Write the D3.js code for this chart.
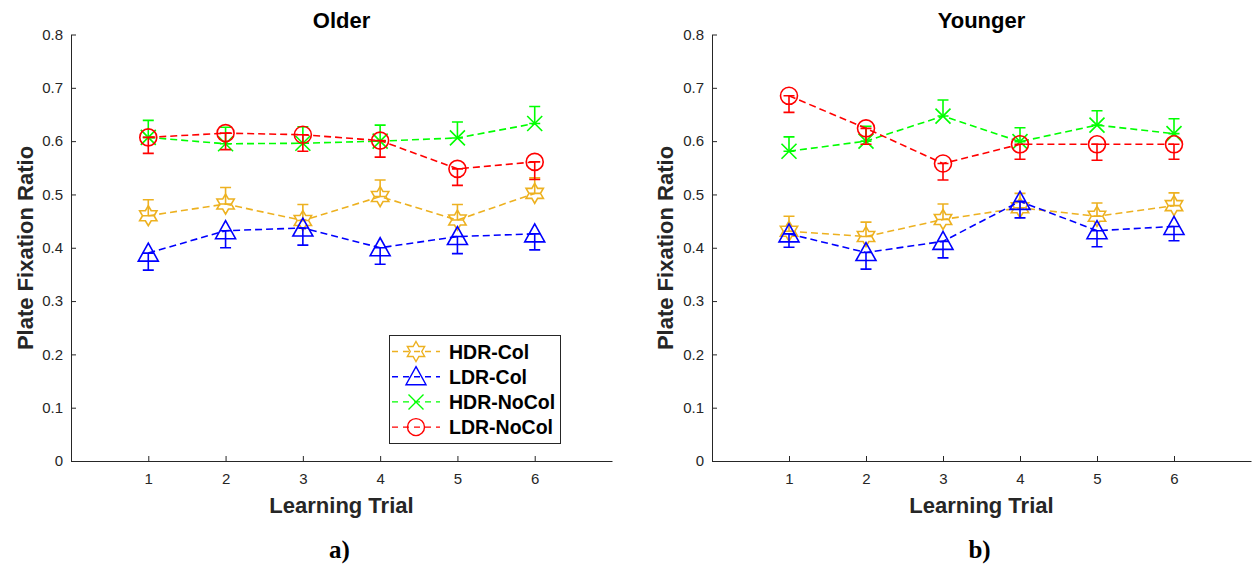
<!DOCTYPE html>
<html>
<head>
<meta charset="utf-8">
<script src="https://cdn.jsdelivr.net/npm/d3@7"></script>
<style>
  html, body { margin: 0; padding: 0; background: #fff; }
  svg { display: block; }
</style>
</head>
<body>
<svg id="chart" width="1254" height="567"></svg>
<script>
// data (mean and one-sided error-bar length)

const trials = [1, 2, 3, 4, 5, 6]
const xTicks = [1, 2, 3, 4, 5, 6]
const yTicks = [0, 0.1, 0.2, 0.3, 0.4, 0.5, 0.6, 0.7, 0.8]
const seriesNames = ['HDR-Col', 'LDR-Col', 'HDR-NoCol', 'LDR-NoCol']

const olderHdrCol      = [0.460, 0.482, 0.451, 0.496, 0.452, 0.502]
const olderHdrColErr   = [0.030, 0.031, 0.030, 0.031, 0.029, 0.029]
const olderLdrCol      = [0.390, 0.432, 0.437, 0.400, 0.421, 0.426]
const olderLdrColErr   = [0.032, 0.032, 0.032, 0.031, 0.032, 0.030]
const olderHdrNoCol    = [0.607, 0.595, 0.596, 0.600, 0.606, 0.633]
const olderHdrNoColErr = [0.032, 0.031, 0.031, 0.030, 0.030, 0.032]
const olderLdrNoCol    = [0.607, 0.615, 0.612, 0.601, 0.548, 0.561]
const olderLdrNoColErr = [0.030, 0.031, 0.031, 0.031, 0.031, 0.033]

const youngerHdrCol      = [0.431, 0.421, 0.453, 0.475, 0.459, 0.479]
const youngerHdrColErr   = [0.028, 0.027, 0.029, 0.027, 0.025, 0.024]
const youngerLdrCol      = [0.426, 0.391, 0.412, 0.487, 0.432, 0.440]
const youngerLdrColErr   = [0.025, 0.031, 0.031, 0.031, 0.030, 0.027]
const youngerHdrNoCol    = [0.581, 0.600, 0.647, 0.599, 0.630, 0.614]
const youngerHdrNoColErr = [0.027, 0.028, 0.030, 0.026, 0.027, 0.028]
const youngerLdrNoCol    = [0.685, 0.624, 0.558, 0.594, 0.594, 0.594]
const youngerLdrNoColErr = [0.031, 0.030, 0.031, 0.028, 0.030, 0.028]

const COLORS = { 'HDR-Col': '#EDB120', 'LDR-Col': '#0000FF', 'HDR-NoCol': '#00FF00', 'LDR-NoCol': '#FF0000' }
const MARKERS = { 'HDR-Col': 'hexagram', 'LDR-Col': 'triangle', 'HDR-NoCol': 'cross', 'LDR-NoCol': 'circle' }
// HDR series carry their bar upward, LDR series downward
const ERR_DIR = { 'HDR-Col': 1, 'LDR-Col': -1, 'HDR-NoCol': 1, 'LDR-NoCol': -1 }
const AXIS_COLOR = '#262626'
const SANS = 'Arial, "Liberation Sans", Helvetica, sans-serif'

const svg = d3.select('#chart')

function build(vals, errs) {
  return trials.map((t, i) => ({ t: t, v: vals[i], e: errs[i] }))
}

// marker path centred at 0,0
function markerPath(kind) {
  if(kind === 'hexagram') {
    let R = 10, r = R / Math.sqrt(3), pts = []
    for(let k = 0; k < 12; k++) {
      let a = -Math.PI / 2 + k * Math.PI / 6
      let rad = k % 2 === 0 ? R : r
      pts.push([rad * Math.cos(a), rad * Math.sin(a)])
    }
    return 'M' + pts.map(p => p[0].toFixed(2) + ',' + p[1].toFixed(2)).join('L') + 'Z'
  }
  if(kind === 'triangle') return 'M0,-10L10,8L-10,8Z'
  if(kind === 'cross') return 'M-7.5,-7.5L7.5,7.5M-7.5,7.5L7.5,-7.5'
  // circle
  return 'M8.5,0A8.5,8.5 0 1,1 -8.5,0A8.5,8.5 0 1,1 8.5,0Z'
}

function drawPanel(opts) {
  let x = d3.scaleLinear().domain([0, 7]).range([opts.left, opts.right])
  let y = d3.scaleLinear().domain([0, 0.8]).range([461, 34.5])
  let g = svg.append('g')

  // axes, ticks pointing inward like matlab
  let xAxis = d3.axisBottom(x).tickValues(xTicks).tickSizeInner(-5).tickSizeOuter(0).tickPadding(12)
    .tickFormat(d3.format('d'))
  let yAxis = d3.axisLeft(y).tickValues(yTicks).tickSizeInner(-5).tickSizeOuter(0).tickPadding(8)
    .tickFormat(d => d === 0 ? '0' : d3.format('.1f')(d))

  let gx = g.append('g').attr('transform', 'translate(0,' + y(0) + ')').call(xAxis)
  let gy = g.append('g').attr('transform', 'translate(' + x(0) + ',0)').call(yAxis)
  ;[gx, gy].forEach(a => {
    a.attr('font-family', SANS).attr('font-size', 15)
    a.select('.domain').attr('stroke', AXIS_COLOR).attr('stroke-width', 1)
    a.selectAll('.tick line').attr('stroke', AXIS_COLOR)
    a.selectAll('.tick text').attr('fill', AXIS_COLOR)
  })

  // series
  opts.series.forEach(s => {
    let col = COLORS[s.name]
    let dir = ERR_DIR[s.name]
    let sg = g.append('g')
    let line = d3.line().x(d => x(d.t)).y(d => y(d.v))
    sg.append('path').datum(s.data)
      .attr('d', line).attr('fill', 'none').attr('stroke', col)
      .attr('stroke-width', 1.6).attr('stroke-dasharray', '7,4')

    sg.selectAll('.eb').data(s.data).enter().append('path')
      .attr('fill', 'none').attr('stroke', col).attr('stroke-width', 1.6)
      .attr('d', d => {
        let cx = x(d.t), y0 = y(d.v), y1 = y(d.v + dir * d.e), w = 5.5
        return 'M' + cx + ',' + y0 + 'V' + y1 +
               'M' + (cx - w) + ',' + y0 + 'H' + (cx + w) +
               'M' + (cx - w) + ',' + y1 + 'H' + (cx + w)
      })

    sg.selectAll('.mk').data(s.data).enter().append('path')
      .attr('transform', d => 'translate(' + x(d.t) + ',' + y(d.v) + ')')
      .attr('d', markerPath(MARKERS[s.name]))
      .attr('fill', 'none').attr('stroke', col).attr('stroke-width', 1.6)
      .attr('stroke-linejoin', 'miter')
  })

  // labels
  let mid = (opts.left + opts.right) / 2
  g.append('text').attr('x', mid).attr('y', 28).attr('text-anchor', 'middle')
    .attr('font-family', SANS).attr('font-weight', 'bold').attr('font-size', 22)
    .attr('fill', '#000').text(opts.title)
  g.append('text').attr('x', mid).attr('y', 513).attr('text-anchor', 'middle')
    .attr('font-family', SANS).attr('font-weight', 'bold').attr('font-size', 22)
    .attr('fill', AXIS_COLOR).text('Learning Trial')
  g.append('text')
    .attr('transform', 'translate(' + opts.ylabelX + ',248) rotate(-90)')
    .attr('text-anchor', 'middle')
    .attr('font-family', SANS).attr('font-weight', 'bold').attr('font-size', 22)
    .attr('fill', AXIS_COLOR).text('Plate Fixation Ratio')
  g.append('text').attr('x', mid - 2).attr('y', 558).attr('text-anchor', 'middle')
    .attr('font-family', '"Liberation Serif", "Times New Roman", serif')
    .attr('font-weight', 'bold').attr('font-size', 25)
    .attr('fill', '#000').text(opts.sub)

  return g
}

drawPanel({
  left: 71, right: 612, title: 'Older', sub: 'a)', ylabelX: 32.5,
  series: [
    { name: 'HDR-Col',   data: build(olderHdrCol, olderHdrColErr) },
    { name: 'LDR-Col',   data: build(olderLdrCol, olderLdrColErr) },
    { name: 'HDR-NoCol', data: build(olderHdrNoCol, olderHdrNoColErr) },
    { name: 'LDR-NoCol', data: build(olderLdrNoCol, olderLdrNoColErr) }
  ]
})

drawPanel({
  left: 712, right: 1251, title: 'Younger', sub: 'b)', ylabelX: 673,
  series: [
    { name: 'HDR-Col',   data: build(youngerHdrCol, youngerHdrColErr) },
    { name: 'LDR-Col',   data: build(youngerLdrCol, youngerLdrColErr) },
    { name: 'HDR-NoCol', data: build(youngerHdrNoCol, youngerHdrNoColErr) },
    { name: 'LDR-NoCol', data: build(youngerLdrNoCol, youngerLdrNoColErr) }
  ]
})

// legend (left panel only)
let lg = svg.append('g')
lg.append('rect').attr('x', 389.5).attr('y', 335.5).attr('width', 171).attr('height', 108)
  .attr('fill', '#fff').attr('stroke', AXIS_COLOR).attr('stroke-width', 1)
seriesNames.forEach((name, i) => {
  let cy = 351.5 + i * 25.2
  let col = COLORS[name]
  lg.append('line').attr('x1', 392).attr('x2', 440).attr('y1', cy).attr('y2', cy)
    .attr('stroke', col).attr('stroke-width', 1.4).attr('stroke-dasharray', '6,5')
  lg.append('path').attr('transform', 'translate(416,' + cy + ')')
    .attr('d', markerPath(MARKERS[name]))
    .attr('fill', 'none').attr('stroke', col).attr('stroke-width', 1.4)
  lg.append('text').attr('x', 449).attr('y', cy).attr('dy', '0.36em')
    .attr('font-family', SANS).attr('font-weight', 'bold').attr('font-size', 19.5)
    .attr('fill', '#000').text(name)
})
</script>
</body>
</html>
